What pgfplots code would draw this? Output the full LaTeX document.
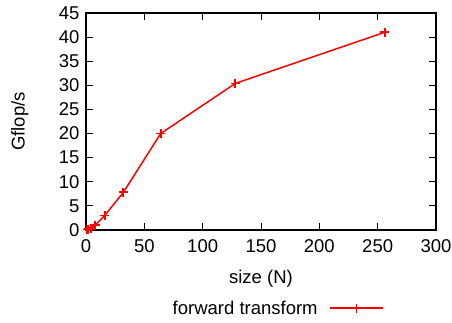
\documentclass[border=0pt]{standalone}
\usepackage{pgfplots}
\pgfplotsset{compat=1.18}
\usepackage{fontspec}
\setmainfont{Liberation Sans}
\begin{document}
\begin{tikzpicture}[x=1pt,y=1pt]
\useasboundingbox (-86,-92) rectangle (366,230);
\begin{axis}[
  at={(0,0)}, anchor=south west,
  scale only axis, width=350pt, height=217pt,
  xmin=0, xmax=300, ymin=0, ymax=45,
  xtick={0,50,...,300}, ytick={0,5,...,45},
  tick align=inside, major tick length=7pt,
  tick style={black, line width=0.9pt},
  axis line style={line width=1.1pt},
  font=\fontsize{18.5}{20}\selectfont,
  /pgf/number format/assume math mode=true,
  xticklabel style={yshift=-6pt},
  yticklabel style={xshift=-3pt},
  xlabel={size (N)}, ylabel={Gflop/s},
  xlabel style={at={(axis description cs:0.5,-0.226)}, anchor=center},
  ylabel style={at={(axis description cs:-0.189,0.5)}, anchor=center},
  legend style={draw=none, fill=none, at={(0.547,-0.36)}, anchor=center, font=\fontsize{18.5}{20}\selectfont},
  legend plot pos=right,
  legend image code/.code={\path (0pt,0pt); \draw[mark repeat=2,mark phase=2] plot coordinates {(10pt,0pt)(36pt,0pt)(63pt,0pt)};},
]
\addplot[red, line width=1.5pt, mark=+, mark size=4.5pt, mark options={line width=1.8pt}] coordinates {
(1,0.1) (2,0.2) (4,0.4) (8,1.0) (16,3.0) (32,7.8) (64,20.0) (128,30.4) (256,41.0)
};
\addlegendentry{forward transform}
\end{axis}
\end{tikzpicture}
\end{document}
